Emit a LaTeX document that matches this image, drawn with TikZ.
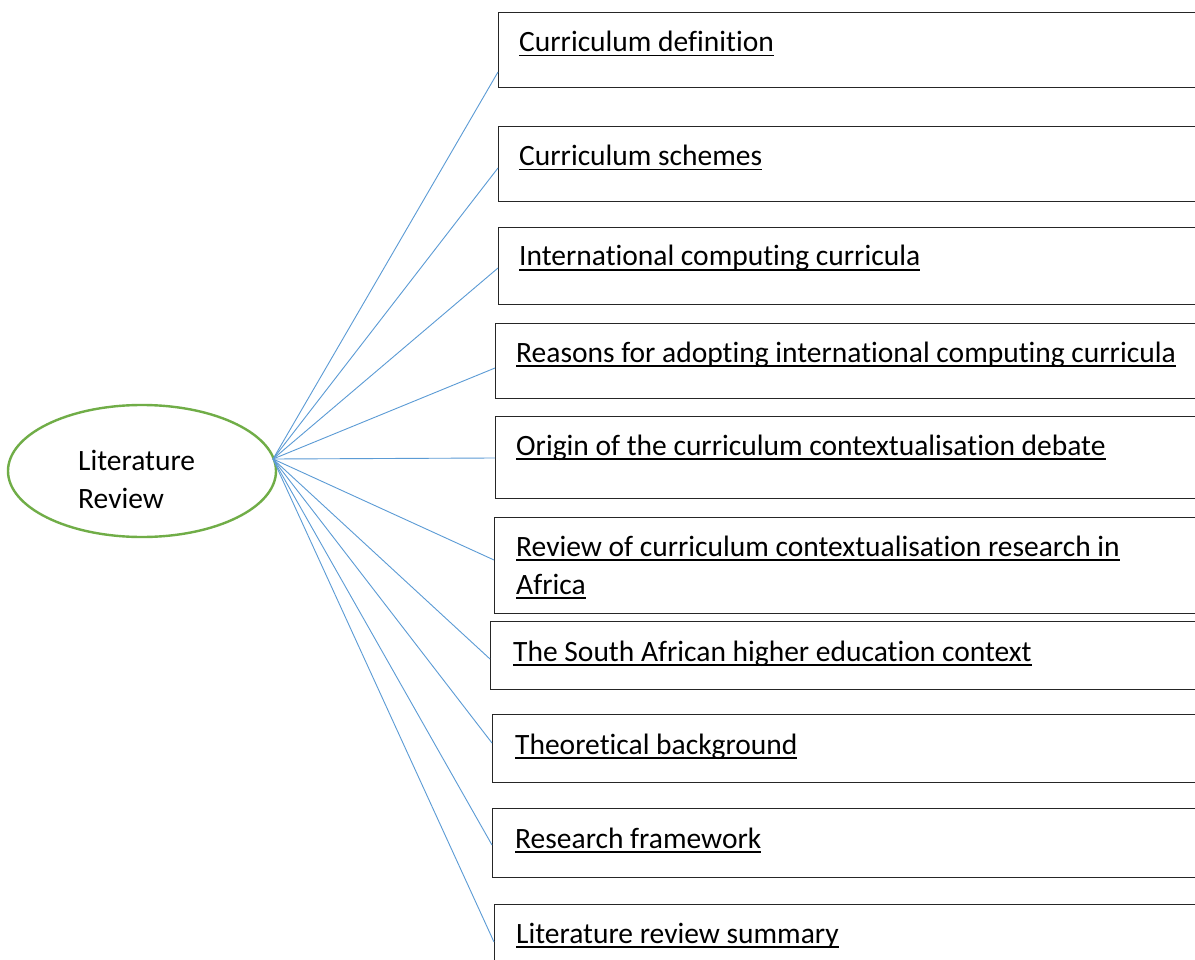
\documentclass[tikz,border=0pt]{standalone}
\usepackage{fontspec}
\setmainfont[Ligatures={NoCommon}]{Carlito}
\usetikzlibrary{calc,shapes.geometric}
\definecolor{linkblue}{HTML}{5B9BD5}
\definecolor{ellgreen}{HTML}{70AD47}
\newcommand\myul[1]{\setbox0=\hbox{#1}\rlap{\rule[-4.5pt]{\wd0}{1.8pt}}\box0}
\tikzset{
  topicbox/.style={draw=black!85, line width=1.4pt, rectangle, inner sep=0pt, anchor=north west},
  topictext/.style={anchor=base west, inner sep=0pt, font=\fontsize{29.5}{38}\selectfont},
  spoke/.style={draw=linkblue, line width=0.9pt},
}
\begin{document}
\begin{tikzpicture}[x=1pt,y=-1pt]
\useasboundingbox (0,0) rectangle (1195,960);
\clip (0,0) rectangle (1195,960);
\fill[white] (0,0) rectangle (1195,960);
% central ellipse
\node[ellipse, draw=ellgreen, line width=2.4pt, minimum width=268pt, minimum height=132pt, inner sep=0pt] (lr) at (142,471) {};
\node[topictext] (lrt) at (78,470) {Literature};
\node[topictext] (lrt2) at (78,508) {Review};
\coordinate (hub) at (273,459);
% boxes
\node[topicbox, minimum width=712pt, minimum height=75pt] (b1) at (498,12) {};
\node[topicbox, minimum width=712pt, minimum height=75pt] (b2) at (498,126) {};
\node[topicbox, minimum width=712pt, minimum height=77pt] (b3) at (498,227) {};
\node[topicbox, minimum width=715pt, minimum height=75pt] (b4) at (495,323) {};
\node[topicbox, minimum width=715pt, minimum height=82pt] (b5) at (495,416) {};
\node[topicbox, minimum width=716pt, minimum height=96pt] (b6) at (494,517) {};
\node[topicbox, minimum width=720pt, minimum height=68pt] (b7) at (490,621) {};
\node[topicbox, minimum width=718pt, minimum height=68pt] (b8) at (492,714) {};
\node[topicbox, minimum width=718pt, minimum height=69pt] (b9) at (492,808) {};
\node[topicbox, minimum width=716pt, minimum height=80pt] (b10) at (494,904) {};
% texts
\node[topictext] (t1) at (519,52) {\myul{Curriculum definition}};
\node[topictext] (t2) at (519,166) {\myul{Curriculum schemes}};
\node[topictext] (t3) at (519,266) {\myul{International computing curricula}};
\node[topictext] (t4) at (516,362) {\myul{Reasons for adopting international computing curricula}};
\node[topictext] (t5) at (516,455) {\myul{Origin of the curriculum contextualisation debate}};
\node[topictext] (t6) at (516,556) {\myul{Review of curriculum contextualisation research in}};
\node[topictext] (t6b) at (516,594) {\myul{Africa}};
\node[topictext] (t7) at (513,661) {\myul{The South African higher education context}};
\node[topictext] (t8) at (515,754) {\myul{Theoretical background}};
\node[topictext] (t9) at (515,848) {\myul{Research framework}};
\node[topictext] (t10) at (516,943) {\myul{Literature review summary}};
% spokes
\draw[spoke] (hub) -- ($(b1.north west)+(0,60)$);
\draw[spoke] (hub) -- ($(b2.north west)+(0,42)$);
\draw[spoke] (hub) -- ($(b3.north west)+(0,41)$);
\draw[spoke] (hub) -- ($(b4.north west)+(0,45)$);
\draw[spoke] (hub) -- ($(b5.north west)+(0,42)$);
\draw[spoke] (hub) -- ($(b6.north west)+(0,43)$);
\draw[spoke] (hub) -- ($(b7.north west)+(0,38)$);
\draw[spoke] (hub) -- ($(b8.north west)+(0,29)$);
\draw[spoke] (hub) -- ($(b9.north west)+(0,37)$);
\draw[spoke] (hub) -- ($(b10.north west)+(0,38)$);
\end{tikzpicture}
\end{document}
